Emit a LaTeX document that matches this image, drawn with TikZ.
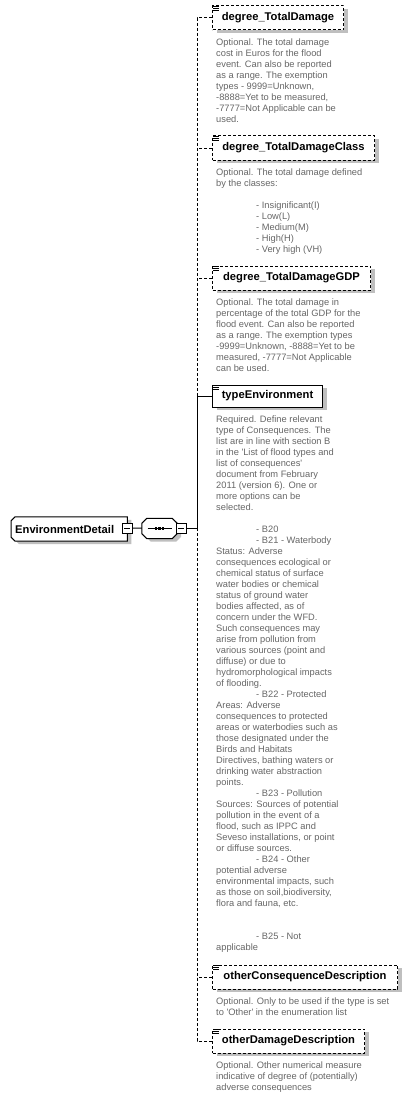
\documentclass[tikz,border=0pt]{standalone}
\usepackage{fontspec}
\setmainfont{Liberation Sans}
\usetikzlibrary{backgrounds}
\usetikzlibrary{shadows}
\colorlet{desccol}{black!60}
\colorlet{shadowcol}{black!25}
\newcommand\descfont{\fontsize{9.3}{11}\selectfont}
\newcommand\titlefont{\fontsize{11.2}{13}\selectfont\bfseries}
\newcommand\ind{\hspace*{40pt}}
\tikzstyle{boxshadow}=[drop shadow={shadow xshift=4pt,shadow yshift=-3pt,fill=shadowcol,opacity=1}]
\tikzstyle{outline}=[draw,fill=white,line width=1pt,boxshadow]
\tikzstyle{elem}=[draw,fill=white,line width=1pt,minimum height=24pt,inner xsep=4pt,anchor=west,font=\titlefont,boxshadow]
\tikzstyle{optelem}=[elem,dash pattern=on 3pt off 2pt]
\tikzstyle{reqelem}=[elem,minimum height=22pt]
\tikzstyle{desc}=[anchor=north west,inner sep=0,align=left,text=desccol,font=\descfont]
\tikzstyle{optline}=[line width=1pt,dash pattern=on 3pt off 2pt]
\tikzstyle{reqline}=[line width=1pt]
\tikzstyle{minusbox}=[draw,fill=white,line width=1pt,minimum size=10pt,inner sep=0]
\def\ch{4pt}
\def\sch{5pt}
\begin{document}
\begin{tikzpicture}[x=1pt,y=-1pt]
  \useasboundingbox (0,0) rectangle (411,1097);

  % ROOT
  \node[minimum height=24pt,text width=108pt,inner xsep=4pt,align=left,anchor=west,
    font=\titlefont] (envd) at (11,529) {EnvironmentDetail};
  \begin{scope}[on background layer]
    \draw[outline] ([xshift=\ch]envd.north west) -- (envd.north east) -- (envd.south east)
      -- ([xshift=\ch]envd.south west) -- ([yshift=\ch]envd.south west)
      -- ([yshift=-\ch]envd.north west) -- cycle;
  \end{scope}
  \node[minusbox] (envm) at (127,528) {};
  \draw[line width=1pt] ([xshift=-3pt]envm.center) -- ([xshift=3pt]envm.center);

  % SEQUENCE
  \node[minimum width=35pt,minimum height=20pt,inner sep=0] (seq) at (159.5,528.5) {};
  \begin{scope}[on background layer]
    \draw[outline] ([xshift=\sch]seq.north west) -- ([xshift=-\sch]seq.north east)
      -- ([yshift=-\sch]seq.north east) -- ([yshift=\sch]seq.south east)
      -- ([xshift=-\sch]seq.south east) -- ([xshift=\sch]seq.south west)
      -- ([yshift=\sch]seq.south west) -- ([yshift=-\sch]seq.north west) -- cycle;
  \end{scope}
  \draw[line width=0.8pt] ([xshift=-12pt]seq.center) -- ([xshift=12pt]seq.center);
  \foreach \k in {-3.5,0,3.5}{
    \fill ([xshift=\k pt]seq.center) +(-1.1,-1.1) rectangle +(1.1,1.1);
  }
  \node[minusbox] (seqm) at (181,528) {};
  \draw[line width=1pt] ([xshift=-3pt]seqm.center) -- ([xshift=3pt]seqm.center);
  \coordinate (bus) at (197,528);

  % CHILDREN
  \node[optelem,minimum width=131pt] (dtd) at (212,18) {degree\_TotalDamage};
  \node[desc] (dtdtxt) at (216,39) {Optional. The total damage\\
    cost in Euros for the flood\\
    event. Can also be reported\\
    as a range. The exemption\\
    types - 9999=Unknown,\\
    -8888=Yet to be measured,\\
    -7777=Not Applicable can be\\
    used.};

  \node[optelem,minimum width=162pt] (dtdc) at (212,148) {degree\_TotalDamageClass};
  \node[desc] (dtdctxt) at (216,169) {Optional. The total damage defined\\
    by the classes:\\
    \mbox{}\\
    \ind - Insignificant(I)\\
    \ind - Low(L)\\
    \ind - Medium(M)\\
    \ind - High(H)\\
    \ind - Very high (VH)};

  \node[optelem,minimum width=158pt] (dtdg) at (212,278) {degree\_TotalDamageGDP};
  \node[desc] (dtdgtxt) at (216,299) {Optional. The total damage in\\
    percentage of the total GDP for the\\
    flood event. Can also be reported\\
    as a range. The exemption types\\
    -9999=Unknown, -8888=Yet to be\\
    measured, -7777=Not Applicable\\
    can be used.};

  \node[reqelem,minimum width=110pt] (typ) at (212,396) {typeEnvironment};
  \node[desc] (typtxt) at (216,416) {Required. Define relevant\\
    type of Consequences. The\\
    list are in line with section B\\
    in the \textquotesingle List of flood types and\\
    list of consequences\textquotesingle\\
    document from February\\
    2011 (version 6). One or\\
    more options can be\\
    selected.\\
    \mbox{}\\
    \ind - B20\\
    \ind - B21 - Waterbody\\
    Status: Adverse\\
    consequences ecological or\\
    chemical status of surface\\
    water bodies or chemical\\
    status of ground water\\
    bodies affected, as of\\
    concern under the WFD.\\
    Such consequences may\\
    arise from pollution from\\
    various sources (point and\\
    diffuse) or due to\\
    hydromorphological impacts\\
    of flooding.\\
    \ind - B22 - Protected\\
    Areas: Adverse\\
    consequences to protected\\
    areas or waterbodies such as\\
    those designated under the\\
    Birds and Habitats\\
    Directives, bathing waters or\\
    drinking water abstraction\\
    points.\\
    \ind - B23 - Pollution\\
    Sources: Sources of potential\\
    pollution in the event of a\\
    flood, such as IPPC and\\
    Seveso installations, or point\\
    or diffuse sources.\\
    \ind - B24 - Other\\
    potential adverse\\
    environmental impacts, such\\
    as those on soil,biodiversity,\\
    flora and fauna, etc.\\
    \mbox{}\\
    \mbox{}\\
    \ind - B25 - Not\\
    applicable};

  \node[optelem,minimum width=185pt] (ocd) at (212,977) {otherConsequenceDescription};
  \node[desc] (ocdtxt) at (216,998) {Optional. Only to be used if the type is set\\
    to \textquotesingle Other\textquotesingle\ in the enumeration list};

  \node[optelem,minimum width=152pt] (odd) at (212,1041) {otherDamageDescription};
  \node[desc] (oddtxt) at (216,1062) {Optional. Other numerical measure\\
    indicative of degree of (potentially)\\
    adverse consequences};

  % ICONS
  \foreach \n in {dtd,dtdc,dtdg,typ,ocd,odd}{
    \foreach \k in {1,3,5}
      \draw[line width=0.8pt] ([shift={(1,\k)}]\n.north west) -- ++(6,0);
  }

  % CONNECTORS
  \draw[reqline] (envm) -- (seq);
  \draw[reqline] (seqm) -- (bus);
  \draw[optline] (dtd.west) -| (typ.west -| bus);
  \draw[optline] (dtdc.west) -- (dtdc.west -| bus);
  \draw[optline] (dtdg.west) -- (dtdg.west -| bus);
  \draw[reqline] (typ.west) -| (bus);
  \draw[optline] (odd.west) -| (bus);
  \draw[optline] (ocd.west) -- (ocd.west -| bus);

\end{tikzpicture}
\end{document}
